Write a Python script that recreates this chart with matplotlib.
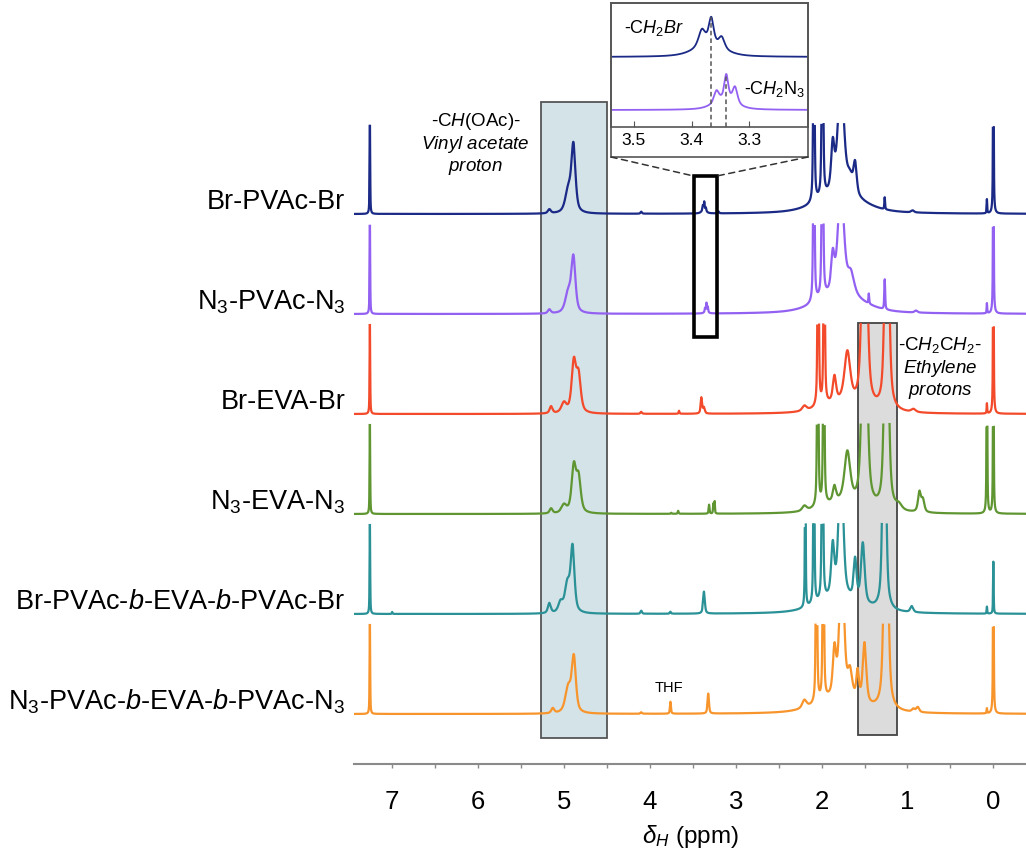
import numpy as np
import matplotlib
matplotlib.use("Agg")
import matplotlib.pyplot as plt
from matplotlib.patches import Rectangle, ConnectionPatch
from matplotlib.transforms import blended_transform_factory
from matplotlib.ticker import MultipleLocator

plt.rcParams["font.family"] = ["Liberation Sans", "DejaVu Sans"]
plt.rcParams["mathtext.fontset"] = "custom"
plt.rcParams["mathtext.rm"] = "Liberation Sans"
plt.rcParams["mathtext.it"] = "Liberation Sans:italic"
plt.rcParams["mathtext.bf"] = "Liberation Sans:bold"

# sample names, top to bottom
labels = [
    "Br-PVAc-Br",
    r"N$_3$-PVAc-N$_3$",
    "Br-EVA-Br",
    r"N$_3$-EVA-N$_3$",
    r"Br-PVAc-$\mathit{b}$-EVA-$\mathit{b}$-PVAc-Br",
    r"N$_3$-PVAc-$\mathit{b}$-EVA-$\mathit{b}$-PVAc-N$_3$",
]
colors = ["#1b2a86", "#9361f2", "#f24a2a", "#5f9632", "#2a9197", "#f7952c"]

# peak lists: (shift ppm, height, half width ppm)
# heights in units of the trace spacing, tall peaks are cut at CLIP
ch2br = [(3.382, 0.05, 0.007), (3.366, 0.08, 0.005), (3.348, 0.035, 0.006), (3.37, 0.035, 0.03)]
ch2n3 = [(3.357, 0.035, 0.005), (3.340, 0.075, 0.004), (3.325, 0.05, 0.005), (3.343, 0.03, 0.022)]

peaks_br_pvac = [
    (7.26, 0.95, 0.004), (5.17, 0.04, 0.02), (4.95, 0.22, 0.04), (4.89, 0.66, 0.028),
    (4.10, 0.02, 0.01), (3.20, 0.02, 0.008),
    (1.78, 0.2, 0.3), (2.09, 2.5, 0.008), (1.99, 2.5, 0.009), (1.87, 0.45, 0.022),
    (1.775, 1.2, 0.04), (1.67, 0.15, 0.04), (1.61, 0.3, 0.022), (1.265, 0.12, 0.005),
    (0.94, 0.02, 0.02), (0.075, 0.14, 0.004), (0.0, 3.0, 0.004),
] + ch2br
peaks_n3_pvac = [
    (7.26, 0.95, 0.004), (5.17, 0.04, 0.02), (4.95, 0.2, 0.04), (4.89, 0.54, 0.028),
    (1.78, 0.2, 0.3), (2.09, 2.5, 0.008), (1.99, 2.5, 0.009), (1.87, 0.35, 0.022),
    (1.775, 1.1, 0.04), (1.66, 0.2, 0.045), (1.45, 0.1, 0.005), (1.265, 0.3, 0.006),
    (0.9, 0.02, 0.02), (0.075, 0.1, 0.004), (0.0, 3.0, 0.004),
] + ch2n3
peaks_br_eva = [
    (7.26, 0.92, 0.004), (5.15, 0.07, 0.02), (5.0, 0.1, 0.035), (4.885, 0.5, 0.03),
    (4.83, 0.36, 0.03), (4.10, 0.02, 0.01), (3.66, 0.03, 0.006),
    (3.40, 0.16, 0.01), (3.37, 0.06, 0.012),
    (2.2, 0.05, 0.03), (1.8, 0.1, 0.25), (2.04, 2.5, 0.008), (1.97, 2.5, 0.008),
    (1.85, 0.25, 0.022), (1.70, 0.5, 0.04), (1.50, 3.0, 0.03), (1.24, 3.0, 0.025),
    (0.93, 0.03, 0.03), (0.075, 0.1, 0.004), (0.0, 3.0, 0.004),
]
peaks_n3_eva = [
    (7.26, 0.92, 0.004), (5.15, 0.05, 0.02), (5.0, 0.08, 0.035), (4.885, 0.46, 0.03),
    (4.83, 0.34, 0.03), (3.75, 0.01, 0.006), (3.67, 0.03, 0.006),
    (3.31, 0.09, 0.006), (3.26, 0.1, 0.005), (3.245, 0.12, 0.004),
    (2.2, 0.05, 0.03), (1.8, 0.1, 0.25), (2.045, 2.5, 0.008), (1.975, 2.5, 0.008),
    (1.85, 0.15, 0.022), (1.70, 0.5, 0.04), (1.50, 3.0, 0.03), (1.245, 3.0, 0.025),
    (1.10, 0.05, 0.04), (0.86, 0.2, 0.02), (0.82, 0.12, 0.02),
    (0.075, 3.0, 0.004), (0.0, 3.0, 0.004),
]
peaks_br_block = [
    (7.26, 0.92, 0.004), (7.0, 0.02, 0.005), (5.17, 0.1, 0.02), (5.04, 0.1, 0.03),
    (4.96, 0.28, 0.035), (4.90, 0.64, 0.026), (4.10, 0.03, 0.01), (3.76, 0.02, 0.008),
    (3.37, 0.22, 0.012),
    (1.8, 0.15, 0.3), (2.19, 3.0, 0.004), (2.09, 3.0, 0.006), (1.99, 3.0, 0.008),
    (1.87, 0.5, 0.022), (1.775, 1.5, 0.03), (1.61, 0.4, 0.02), (1.52, 0.6, 0.025),
    (1.27, 3.0, 0.02), (0.95, 0.06, 0.02), (0.075, 0.07, 0.004), (0.0, 0.52, 0.004),
]
peaks_n3_block = [
    (7.26, 0.92, 0.004), (5.13, 0.05, 0.02), (4.95, 0.25, 0.04), (4.885, 0.54, 0.028),
    (4.10, 0.015, 0.01), (3.76, 0.12, 0.007), (3.32, 0.2, 0.01),
    (2.2, 0.08, 0.03), (1.8, 0.15, 0.3), (2.06, 2.5, 0.008), (1.98, 2.5, 0.008),
    (1.85, 0.45, 0.022), (1.765, 1.5, 0.03), (1.67, 0.25, 0.03), (1.58, 0.28, 0.018),
    (1.50, 0.6, 0.024), (1.25, 3.0, 0.025), (0.93, 0.03, 0.02), (0.88, 0.05, 0.02),
    (0.075, 0.05, 0.004), (0.0, 3.0, 0.004),
]
spectra = [peaks_br_pvac, peaks_n3_pvac, peaks_br_eva, peaks_n3_eva, peaks_br_block, peaks_n3_block]

CLIP = 0.9
INSET_GAIN = 3.3


def spectrum(ppm, peaks):
    y = np.zeros_like(ppm)
    for c, h, w in peaks:
        u = ((ppm - c) / w) ** 2
        y += h * (0.6 / (1 + u) + 0.4 * np.exp(-np.log(2) * u))
    return y


ppm = np.linspace(-0.5, 7.5, 40000)

fig = plt.figure(figsize=(10.26, 8.52), dpi=100)
ax = fig.add_axes([354 / 1026, 88 / 852, 672 / 1026, 764 / 852])
ax.set_xlim(7.445, -0.38)
ax.set_ylim(-0.5, 7.14)

n = len(spectra)
lab_tr = blended_transform_factory(ax.transAxes, ax.transData)
for i, (peaks, col, lab) in enumerate(zip(spectra, colors, labels)):
    off = n - 1 - i
    y = spectrum(ppm, peaks)
    y[y > CLIP] = np.nan
    ax.plot(ppm, y + off, color=col, lw=1.6, zorder=3)
    ax.text(-0.013, off + 0.05, lab, transform=lab_tr, ha="right", va="baseline",
            fontsize=19.5)

# highlight boxes
ax.add_patch(Rectangle((4.50, -0.24), 0.77, 6.36, facecolor="#d4e3e8",
                       edgecolor="#555555", lw=1.3, zorder=1))
ax.add_patch(Rectangle((1.12, -0.21), 0.455, 4.12, facecolor="#dcdcdc",
                       edgecolor="#444444", lw=1.3, zorder=1))
ax.add_patch(Rectangle((3.22, 3.77), 0.27, 1.61, facecolor="none",
                       edgecolor="black", lw=2.6, zorder=4))

ax.text(6.03, 5.70, "-C$\\mathit{H}$(OAc)-\n$\\mathit{Vinyl\\ acetate}$\n$\\mathit{proton}$",
        ha="center", va="center", fontsize=13.5, linespacing=1.15)
ax.text(0.62, 3.46, "-C$\\mathit{H}_2$C$\\mathit{H}_2$-\n$\\mathit{Ethylene}$\n$\\mathit{protons}$",
        ha="center", va="center", fontsize=13.5, linespacing=1.15)
ax.text(3.78, 0.26, "THF", ha="center", va="center", fontsize=10.5)

for s in ["left", "top", "right"]:
    ax.spines[s].set_visible(False)
ax.spines["bottom"].set_color("#8a8a8a")
ax.spines["bottom"].set_linewidth(1.5)
ax.set_yticks([])
ax.xaxis.set_major_locator(MultipleLocator(1))
ax.xaxis.set_minor_locator(MultipleLocator(0.5))
ax.tick_params(axis="x", which="both", direction="out", color="#8a8a8a", length=3,
               width=1, labelsize=18.5, pad=16)
ax.set_xlabel(r"$\delta_H$ (ppm)", fontsize=17.5, labelpad=6)

# zoomed inset of the CH2-X region
ax_in = fig.add_axes([611 / 1026, (852 - 127) / 852, 197 / 1026, 124 / 852])
ax_in.set_xlim(3.539, 3.199)
ax_in.set_ylim(-0.17, 1.07)
x_in = np.linspace(3.199, 3.539, 3000)
base_br = spectrum(x_in, ch2br) * INSET_GAIN
base_n3 = spectrum(x_in, ch2n3) * INSET_GAIN
ax_in.plot(x_in, base_br + 0.53, color=colors[0], lw=1.3)
ax_in.plot(x_in, base_n3, color=colors[1], lw=1.3)
top_br = spectrum(np.array([3.366]), ch2br)[0] * INSET_GAIN + 0.53
top_n3 = spectrum(np.array([3.340]), ch2n3)[0] * INSET_GAIN
ax_in.vlines([3.366, 3.340], -0.17, [top_br, top_n3], colors="#555555",
             linestyles=(0, (3, 2)), lw=1.1)
ax_in.text(0.22, 0.80, "-C$\\mathit{H}_2\\mathit{Br}$", transform=ax_in.transAxes,
           ha="center", va="center", fontsize=13)
ax_in.text(0.83, 0.31, "-C$\\mathit{H}_2$N$_3$", transform=ax_in.transAxes,
           ha="center", va="center", fontsize=13)
ax_in.set_yticks([])
ax_in.set_xticks([3.5, 3.4, 3.3])
ax_in.tick_params(axis="x", direction="in", length=4, labelsize=12.5, pad=4,
                  color="#555555")
for s in ax_in.spines.values():
    s.set_color("#555555")
    s.set_linewidth(1.2)

fig.add_artist(Rectangle((611 / 1026, (852 - 157) / 852), 197 / 1026, 154 / 852,
                         transform=fig.transFigure, facecolor="none",
                         edgecolor="#555555", lw=1.2))
for xa, xb in [(611 / 1026, 3.49), (808 / 1026, 3.22)]:
    fig.add_artist(ConnectionPatch(xyA=(xa, (852 - 157) / 852), coordsA=fig.transFigure,
                                   xyB=(xb, 5.38), coordsB=ax.transData,
                                   linestyle=(0, (4, 3)), color="#333333", lw=1.1))

fig.savefig("out.png", dpi=100)
